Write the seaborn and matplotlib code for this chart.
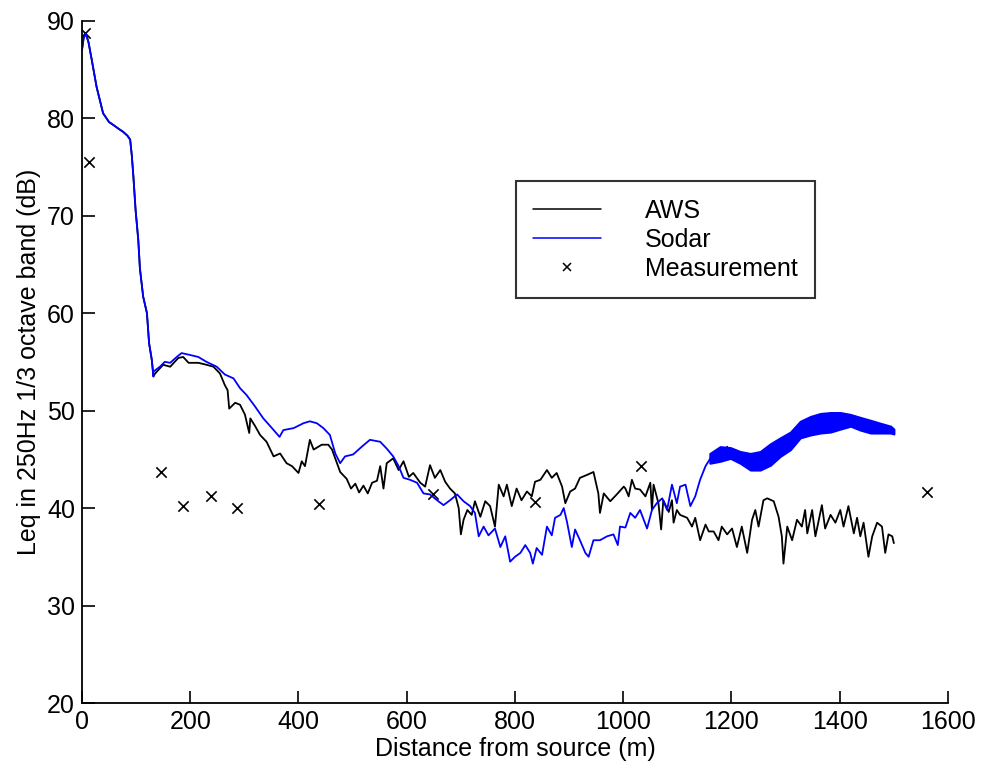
import numpy as np
import pandas as pd
import matplotlib
matplotlib.use("Agg")
import matplotlib.pyplot as plt
from matplotlib.lines import Line2D
import seaborn as sns

# --- data ---
# common steep start (both models overlap up to ~130 m)
start_x = [0, 3, 7, 12, 18, 27, 39, 50, 58, 68, 76, 84, 89, 92, 95, 99, 104, 107, 113, 120, 124, 129, 132]
start_y = [87.0, 88.2, 88.7, 87.8, 86.0, 83.2, 80.5, 79.6, 79.3, 78.9, 78.6, 78.2, 77.8, 76.2, 74.0,
           70.6, 67.5, 64.6, 61.7, 60.0, 56.9, 55.2, 53.5]

aws_x = [135, 150, 163, 178, 187, 197, 215, 230, 243, 255, 264, 269, 272, 283, 292, 301, 309, 311, 320,
         329, 341, 354, 366, 378, 388, 400, 406, 412, 421, 428, 443, 455, 462, 471, 477, 489, 497, 505,
         512, 520, 528, 536, 545, 551, 557, 563, 575, 585, 594, 604, 612, 625, 634, 643, 652, 662, 671,
         680, 689, 696, 700, 705, 712, 720, 726, 736, 745, 754, 763, 770, 779, 785, 794, 803, 812, 822,
         831, 837, 847, 859, 868, 877, 887, 893, 902, 911, 920, 933, 945, 954, 957, 964, 976, 988, 1001,
         1004, 1010, 1016, 1022, 1031, 1041, 1050, 1053, 1056, 1065, 1070, 1074, 1084, 1090, 1093, 1099,
         1105, 1118, 1127, 1133, 1142, 1152, 1158, 1167, 1176, 1182, 1192, 1201, 1210, 1219, 1229, 1238,
         1244, 1250, 1259, 1266, 1278, 1287, 1293, 1296, 1303, 1312, 1321, 1330, 1336, 1340, 1349, 1355,
         1367, 1373, 1383, 1392, 1401, 1407, 1416, 1426, 1432, 1438, 1444, 1453, 1460, 1469, 1478, 1484,
         1490, 1497, 1500]
aws_y = [53.8, 54.7, 54.5, 55.4, 55.5, 54.9, 54.9, 54.7, 54.5, 53.8, 52.6, 52.1, 50.2, 50.8, 50.6, 49.6,
         47.7, 49.2, 48.4, 47.5, 46.8, 45.3, 45.6, 44.6, 44.3, 43.6, 44.8, 44.3, 47.0, 46.0, 46.5, 46.5,
         46.0, 44.6, 43.7, 43.0, 42.0, 42.5, 41.6, 42.3, 41.5, 42.6, 42.8, 44.3, 42.0, 44.6, 45.1, 43.9,
         44.8, 43.2, 43.6, 42.6, 42.2, 44.4, 43.1, 43.9, 42.7, 42.0, 41.5, 40.0, 37.3, 38.8, 39.8, 39.3,
         40.7, 39.1, 40.7, 40.2, 38.1, 42.4, 41.2, 42.4, 40.2, 42.0, 40.8, 41.7, 41.2, 42.7, 42.9, 43.9,
         43.1, 43.6, 42.2, 40.5, 41.7, 42.0, 43.1, 43.4, 43.7, 41.5, 39.5, 41.5, 40.7, 41.4, 42.2, 42.0,
         41.2, 42.9, 42.0, 41.9, 41.2, 42.6, 39.8, 42.4, 40.5, 37.8, 40.8, 39.6, 40.8, 38.5, 39.8, 39.3,
         39.0, 38.1, 39.0, 36.7, 38.3, 37.6, 37.6, 36.7, 38.1, 37.3, 37.9, 36.0, 38.1, 35.4, 38.8, 39.8,
         38.1, 40.8, 41.0, 40.7, 39.1, 37.1, 34.3, 38.1, 36.7, 38.8, 38.1, 39.8, 37.4, 39.8, 37.1, 40.3,
         37.9, 39.3, 38.5, 39.8, 38.1, 40.2, 37.4, 39.0, 37.1, 38.5, 35.0, 37.1, 38.5, 38.1, 35.4, 37.3,
         37.1, 36.4]

sodar_x = [132, 144, 153, 163, 175, 184, 200, 215, 230, 249, 264, 280, 292, 304, 320, 335, 351, 365, 372,
           391, 409, 421, 434, 446, 458, 468, 477, 486, 501, 517, 532, 551, 563, 575, 585, 594, 606, 619,
           631, 643, 656, 668, 680, 693, 705, 717, 726, 733, 742, 751, 763, 773, 782, 791, 800, 810, 819,
           828, 833, 840, 850, 859, 868, 874, 884, 890, 896, 905, 911, 920, 930, 936, 945, 957, 970, 982,
           990, 994, 1004, 1013, 1022, 1031, 1044, 1053, 1062, 1072, 1081, 1090, 1099, 1105, 1115, 1124,
           1133, 1142, 1152, 1161, 1170, 1176, 1185, 1192]
sodar_y = [54.0, 54.5, 55.0, 54.9, 55.5, 55.9, 55.7, 55.5, 55.0, 54.5, 53.7, 53.3, 52.3, 51.6, 50.4, 49.2,
           48.2, 47.3, 48.0, 48.2, 48.7, 48.9, 48.7, 48.2, 47.5, 45.6, 44.6, 45.3, 45.5, 46.3, 47.0, 46.8,
           46.1, 45.3, 44.3, 43.1, 42.9, 42.6, 41.5, 41.4, 40.8, 40.3, 40.8, 41.4, 40.7, 40.2, 39.5, 37.1,
           38.1, 37.2, 37.9, 36.0, 37.1, 34.5, 35.0, 35.4, 36.2, 35.4, 34.3, 35.9, 35.2, 38.1, 37.2, 39.0,
           39.3, 40.0, 38.6, 36.0, 37.8, 36.7, 35.4, 35.0, 36.7, 36.7, 37.1, 37.3, 36.2, 38.1, 38.0, 39.5,
           39.0, 39.8, 37.9, 39.8, 40.5, 41.0, 39.8, 42.4, 40.5, 42.2, 42.4, 40.2, 41.2, 42.9, 44.3, 45.1,
           45.8, 46.0, 45.0, 46.3]

# rapidly oscillating part of the Sodar curve: lower / upper envelope
band_x = [1160, 1179, 1198, 1216, 1235, 1253, 1272, 1290, 1309, 1327, 1346, 1364, 1383, 1401, 1420,
          1438, 1457, 1475, 1494, 1500]
band_lo = [44.6, 44.8, 45.1, 44.6, 43.9, 43.9, 44.4, 45.3, 46.0, 47.2, 47.5, 47.7, 47.8, 48.1, 48.4,
           48.0, 47.7, 47.7, 47.7, 47.6]
band_hi = [45.6, 46.3, 46.2, 45.8, 45.6, 45.8, 46.6, 47.2, 47.8, 48.9, 49.4, 49.7, 49.8, 49.8, 49.6,
           49.3, 49.0, 48.7, 48.4, 48.1]

meas_x = [5, 13, 146, 186, 238, 286, 438, 648, 837, 1033, 1562]
meas_y = [88.7, 75.5, 43.7, 40.2, 41.2, 40.0, 40.4, 41.4, 40.6, 44.3, 41.6]

aws = pd.DataFrame({"x": start_x + aws_x, "y": start_y + aws_y})
sodar = pd.DataFrame({"x": start_x + sodar_x, "y": start_y + sodar_y})
meas = pd.DataFrame({"x": meas_x, "y": meas_y})

sns.set_theme(style="white")
plt.rcParams['font.family'] = ['Liberation Sans', 'DejaVu Sans']
plt.rcParams['font.size'] = 18
plt.rcParams['text.color'] = 'black'
plt.rcParams['axes.labelcolor'] = 'black'

fig = plt.figure(figsize=(9.83, 7.78), dpi=100)
ax = fig.add_axes([0.0834, 0.0964, 0.881, 0.877])

sns.lineplot(data=aws, x="x", y="y", color="black", lw=1.3, sort=False, estimator=None, ax=ax)
sns.lineplot(data=sodar, x="x", y="y", color="blue", lw=1.3, sort=False, estimator=None, ax=ax)
ax.fill_between(band_x, band_lo, band_hi, color="blue", lw=1.5, edgecolor="blue")
sns.scatterplot(data=meas, x="x", y="y", marker="x", color="black", s=55, linewidth=1.2, ax=ax)

ax.set_xlim(0, 1600)
ax.set_ylim(20, 90)
ax.set_xticks(range(0, 1601, 200))
ax.set_yticks(range(20, 91, 10))
ax.tick_params(direction="in", length=9, width=1.2, labelsize=18, pad=5, colors="black",
               bottom=True, left=True)
sns.despine(ax=ax)
for s in ["left", "bottom"]:
    ax.spines[s].set_color("black")
    ax.spines[s].set_linewidth(1.3)

ax.set_xlabel("Distance from source (m)", fontsize=18, labelpad=2, color="black")
ax.set_ylabel("Leq in 250Hz 1/3 octave band (dB)", fontsize=18, labelpad=4, color="black")

handles = [Line2D([], [], color="black", lw=1.1),
           Line2D([], [], color="blue", lw=1.1),
           Line2D([], [], color="black", marker="x", ls="none", markersize=6, mew=1.1)]
leg = ax.legend(handles, ["AWS", "Sodar", "Measurement"], loc="upper left",
                bbox_to_anchor=(0.501, 0.765), frameon=True, fancybox=False, fontsize=18,
                handlelength=2.7, handletextpad=1.75, labelspacing=0.2, borderpad=0.7,
                borderaxespad=0)
leg.get_frame().set_edgecolor("black")
leg.get_frame().set_linewidth(1.5)
for t in leg.get_texts():
    t.set_color("black")

fig.savefig("out.png", dpi=100)
